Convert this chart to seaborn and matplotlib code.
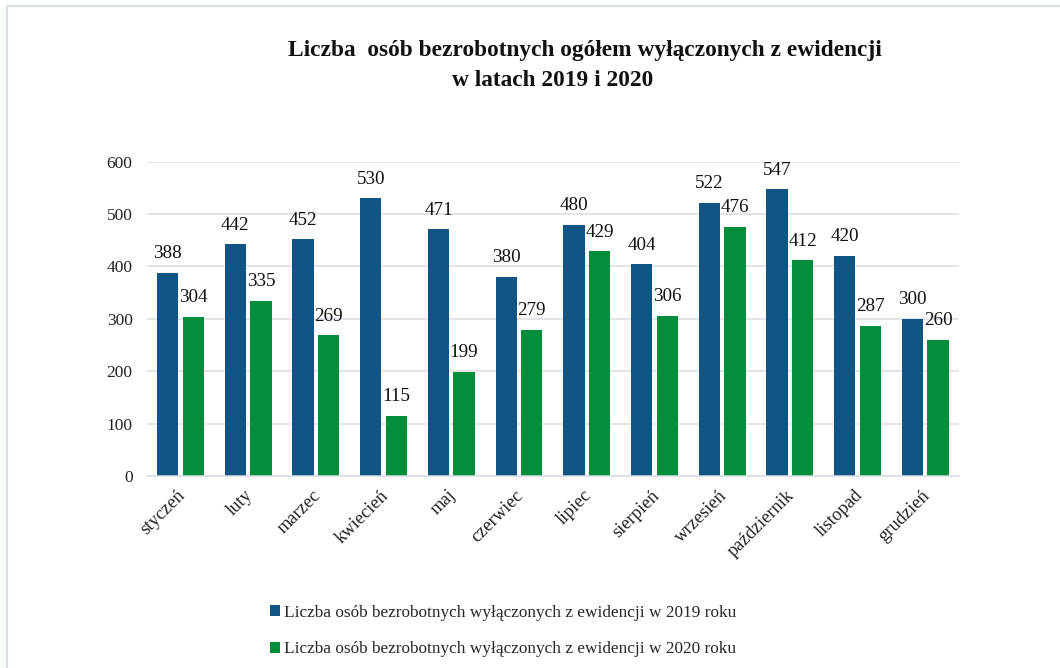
"""
Liczba osób bezrobotnych wyłączonych z ewidencji, 2019 vs 2020 – grouped bar chart.
"""
import matplotlib
matplotlib.use("Agg")
import matplotlib.pyplot as plt
import numpy as np
import pandas as pd
import seaborn as sns
from matplotlib.lines import Line2D
from matplotlib.transforms import ScaledTranslation

# ── Data ───────────────────────────────────────────────────────────────
months = ["styczeń", "luty", "marzec", "kwiecień", "maj", "czerwiec",
          "lipiec", "sierpień", "wrzesień", "październik", "listopad", "grudzień"]
values_2019 = [388, 442, 452, 530, 471, 380, 480, 404, 522, 547, 420, 300]
values_2020 = [304, 335, 269, 115, 199, 279, 429, 306, 476, 412, 287, 260]
series_names = ["Liczba osób bezrobotnych wyłączonych z ewidencji w 2019 roku",
                "Liczba osób bezrobotnych wyłączonych z ewidencji w 2020 roku"]
y_ticks = [0, 100, 200, 300, 400, 500, 600]

title_line1 = "Liczba  osób bezrobotnych ogółem wyłączonych z ewidencji"
title_line2 = "w latach 2019 i 2020"

BLUE = "#105486"
GREEN = "#028D3B"
GRID = "#D9DEE4"

df = pd.DataFrame({
    "month": months * 2,
    "value": values_2019 + values_2020,
    "series": [series_names[0]] * len(months) + [series_names[1]] * len(months),
})

# ── Style ──────────────────────────────────────────────────────────────
sns.set_theme(style="white")
plt.rcParams["font.family"] = ["Liberation Serif", "DejaVu Serif"]

W, H = 1060, 668
fig = plt.figure(figsize=(W / 100, H / 100), dpi=100)
ax = fig.add_axes([146.5 / W, 1 - 476 / H, 812.7 / W, 314.3 / H])

sns.barplot(data=df, x="month", y="value", hue="series", order=months,
            hue_order=series_names, palette=[BLUE, GREEN], saturation=1,
            width=0.757, gap=0.168, linewidth=0, ax=ax, errorbar=None)

# value labels above bars
for container in ax.containers:
    for bar in container:
        h = bar.get_height()
        ax.annotate(f"{h:.0f}", (bar.get_x() + bar.get_width() / 2, h),
                    xytext=(0, 13.7), textcoords="offset points",
                    ha="center", va="center", fontsize=13.8, color="#111111")

# axes styling
ax.set_ylim(0, 600)
ax.set_yticks(y_ticks)
ax.set_yticklabels([str(t) for t in y_ticks], fontsize=12.5, color="#222222")
ax.yaxis.grid(True, color=GRID, linewidth=1.1)
ax.set_axisbelow(True)
for side in ["left", "right", "top"]:
    ax.spines[side].set_visible(False)
ax.spines["bottom"].set_color(GRID)
ax.spines["bottom"].set_linewidth(1.1)
ax.tick_params(axis="both", length=0)
ax.tick_params(axis="y", pad=10)
ax.set_xlabel("")
ax.set_ylabel("")

ax.set_xticks(range(len(months)))
ax.set_xticklabels(months, rotation=45, ha="right", va="center",
                   rotation_mode="anchor", fontsize=13.3, color="#222222")
shift = ScaledTranslation(2 / 100, -12 / 100, fig.dpi_scale_trans)
for lbl in ax.get_xticklabels():
    lbl.set_transform(lbl.get_transform() + shift)

# legend at the bottom
handles, labels = ax.get_legend_handles_labels()
ax.get_legend().remove()
fig.legend(handles, labels, loc="center", bbox_to_anchor=(503 / W, 37 / H),
           frameon=False, fontsize=12.4, handlelength=0.6, handleheight=0.6,
           handletextpad=0.25, labelspacing=1.2)

# title (two lines)
fig.text(288 / W, 1 - 56 / H, title_line1, ha="left", va="baseline",
         fontsize=16.8, fontweight="bold", color="#111111")
fig.text(553 / W, 1 - 86 / H, title_line2, ha="center", va="baseline",
         fontsize=16.8, fontweight="bold", color="#111111")

# chart frame (left and top edge only visible)
fig.add_artist(Line2D([7 / W, 7 / W], [0, 1 - 6 / H], transform=fig.transFigure,
                      color=GRID, linewidth=1.5))
fig.add_artist(Line2D([7 / W, 1], [1 - 6 / H, 1 - 6 / H], transform=fig.transFigure,
                      color=GRID, linewidth=1.5))

fig.savefig("out.png", dpi=100)
plt.close(fig)
